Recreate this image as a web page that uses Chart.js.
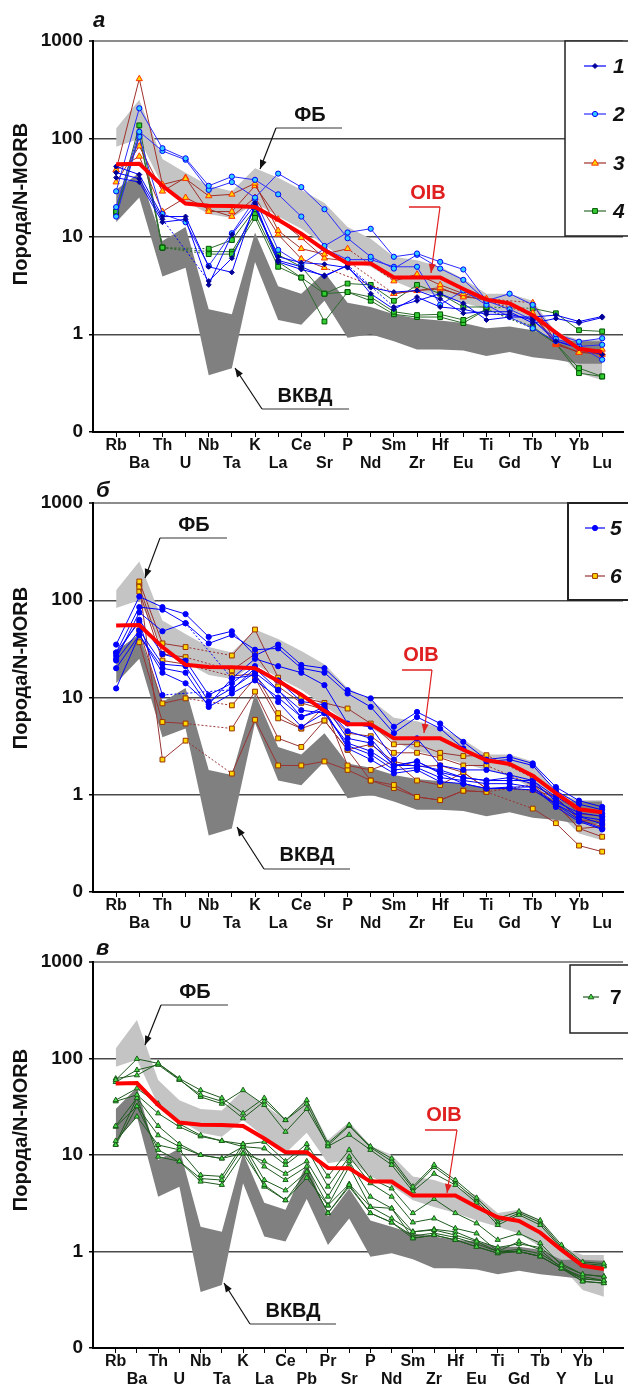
<!DOCTYPE html>
<html>
<head>
<meta charset="utf-8">
<script src="https://cdn.jsdelivr.net/npm/chart.js@4.4.1/dist/chart.umd.min.js"></script>
<style>
html, body { margin: 0; padding: 0; background: #fff; }
.panel { position: absolute; left: 0; width: 628px; }
canvas { display: block; }
</style>
</head>
<body>
<div class="panel" style="top:0"><canvas id="chartA" width="628" height="478"></canvas></div>
<div class="panel" style="top:460px"><canvas id="chartB" width="628" height="478"></canvas></div>
<div class="panel" style="top:920px"><canvas id="chartC" width="628" height="468"></canvas></div>
<script>
"use strict";
const FONT = "'Liberation Sans', Arial, sans-serif";

// categories
const catsAB = ['Rb','Ba','Th','U','Nb','Ta','K','La','Ce','Sr','P','Nd','Sm','Zr','Hf','Eu','Ti','Gd','Tb','Y','Yb','Lu'];
const catsC = ['Rb','Ba','Th','U','Nb','Ta','K','La','Ce','Pb','Pr','Sr','P','Nd','Sm','Zr','Hf','Eu','Ti','Gd','Tb','Y','Yb','Lu'];

// y axis ticks (bottom one is labelled "0")
const yTicks = [0.1, 1, 10, 100, 1000];
const yTickLabels = ['0', '1', '10', '100', '1000'];

// OIB reference line
const oibAB = [55, 55.6, 33, 21.7, 20.6, 20.5, 20, 14.8, 10.7, 7.3, 5.3, 5.3, 3.8, 3.8, 3.8, 2.9, 2.26, 2.07, 1.57, 1.04, 0.71, 0.66];
const oibC = [55, 55.6, 33, 21.7, 20.6, 20.5, 20, 14.8, 10.7, 10.7, 7.35, 7.3, 5.3, 5.3, 3.8, 3.8, 3.8, 2.9, 2.26, 2.07, 1.57, 1.04, 0.71, 0.66];

// fields: ФБ (light) and ВКВД (dark), upper and lower bounds
const fbHiAB = [127, 250, 62, 45, 33, 29, 50, 40, 30, 22, 12.5, 9.5, 6.2, 5.7, 4.9, 3.7, 2.6, 2.6, 2.2, 1.05, 0.88, 0.88];
const fbLoAB = [83, 100, 33, 23, 17, 15.5, 22, 16, 12, 8.2, 5.5, 4.9, 3.5, 2.8, 2.45, 2.1, 1.8, 1.55, 1.15, 0.68, 0.4, 0.34];
const vkHiAB = [30, 45, 9, 12.5, 1.8, 1.6, 11, 3.1, 2.6, 4.3, 2.1, 1.9, 1.6, 1.45, 1.38, 1.3, 1.15, 1.2, 1.1, 0.88, 0.85, 0.85];
const vkLoAB = [14, 25, 3.9, 4.8, 0.38, 0.45, 5.5, 1.4, 1.25, 2.2, 0.92, 1.0, 0.85, 0.7, 0.7, 0.68, 0.6, 0.66, 0.58, 0.55, 0.5, 0.5];

const fbHiC = [127, 250, 60, 37, 30, 29, 47, 33, 23, 38, 14.3, 22, 12.5, 10, 6, 5.5, 4.7, 3.8, 2.5, 2.7, 2.1, 1.12, 0.92, 0.92];
const fbLoC = [82, 97, 33, 23, 17, 15.5, 23, 15.5, 10.4, 17, 8.2, 8.9, 6.0, 4.8, 3.4, 2.9, 2.5, 2.1, 1.8, 1.54, 1.12, 0.7, 0.4, 0.34];
const vkHiC = [30, 50, 8.9, 11.7, 1.8, 1.6, 10.4, 3.2, 2.7, 8.2, 2.3, 4.5, 2.1, 1.8, 1.54, 1.43, 1.32, 1.27, 1.12, 1.12, 1.04, 0.82, 0.82, 0.8];
const vkLoC = [14, 25, 3.7, 4.7, 0.38, 0.45, 5.1, 1.43, 1.27, 3.5, 1.17, 2.2, 0.88, 0.96, 0.83, 0.67, 0.67, 0.65, 0.58, 0.63, 0.58, 0.55, 0.52, 0.52];

// panel а, groups 1-4
const g1 = [
  [52, 43, 16, 16, 4.9, 4.3, 22, 5.7, 4.9, 3.9, 5.1, null, 1.9, 2.2, 2.6, 2.07, 1.4, 1.5, 1.5, 1.57, 1.35, 1.52],
  [45, 39, 15, null, 3.5, 6.0, 20, 6.2, 5.4, 5.2, 4.8, 3.0, 2.7, 2.8, 2.3, 1.64, 1.7, 1.7, 1.3, 1.45, 1.3, 1.48],
  [40, 36, 14, 15, 3.2, 10.5, 21, 5.5, 4.6, 4.0, 5.0, 2.6, 1.8, 2.4, 1.9, 1.8, 1.6, 1.6, 1.4, 0.85, 0.72, 0.62]
];
const g2 = [
  [29, 205, 80, 63, 33, 41, 38, 27, 16, 8, 11, 12, 6.2, 6.7, 5.5, 4.6, 2.2, 2.6, 2.0, 1.0, 0.84, 0.91],
  [20, 118, 75, 61, 30, 36, 25, 44, 32, 19, 9.6, 6.2, 4.7, 6.5, 4.7, 3.6, 2.2, 1.8, 1.4, 0.9, 0.75, 0.78],
  [16, 105, 17, 14, 5.0, 10.8, 24, 7.3, 5.2, 7.5, 5.8, 5.8, 4.9, 4.9, 2.0, 2.8, 2.0, 1.5, 1.15, 0.85, 0.75, 0.55]
];
const g3 = [
  [48, 410, 34, 39, 26, 27, 35, 11.5, 7.5, 6.6, 7.5, null, 3.5, 4.1, 3.2, 2.6, 2.3, null, 2.1, 0.82, 0.65, 0.70],
  [36, 84, 29, 40, 18, 18, 33, 15, 9.7, 6.0, 5.6, null, 2.6, 2.8, 3.0, 2.4, 2.3, null, 1.65, 0.8, 0.65, 0.64],
  [48, 66, 18, 25, 19, 16, 25, 10.5, 5.9, 4.8, null, null, 2.6, 2.8, 2.9, 2.5, 2.2, null, 1.6, 0.78, 0.66, 0.62]
];
const g4 = [
  [18, 137, 7.7, null, 7.5, 9.2, 19, 6.5, 4.9, 2.6, 3.3, 3.2, 2.2, 3.2, 2.6, 1.9, 1.9, null, 1.84, 1.64, 1.1, 1.07],
  [17, 110, 7.7, null, 6.6, 6.6, 15.5, 4.9, 3.8, 1.35, 2.7, 2.4, 1.7, 1.57, 1.6, 1.4, 1.8, null, 1.15, 0.8, 0.45, 0.37],
  [18, 105, 7.7, null, 7.0, 7.0, 17, 5.5, 3.8, 2.6, 2.7, 2.2, 1.6, 1.5, 1.5, 1.3, 1.8, null, 1.2, 0.8, 0.4, 0.37]
];

// panel б, groups 5-6
const g5 = [
  [35, 109, 85, 72, 42, 48, 27, 35, 21.6, 20, 11.9, 9.8, 5.0, 7.1, 5.4, 3.5, 2.3, 2.45, 2.1, 1.2, 0.87, 0.75],
  [29, 85, 80, 58, 36, 44, 31, 32, 20, 18, 11, 8.0, 4.3, 6.3, 4.8, 3.0, 2.2, 2.3, 2.0, 1.1, 0.8, 0.7],
  [25, 75, 48, 58, null, 15.7, 25, 21, 18, 13.4, 5.4, 5.0, 2.3, 3.8, 2.0, 1.8, 1.8, 1.6, 1.4, 0.95, 0.7, 0.64],
  [27, 63, 28, 24, 10.6, 14, 21, 15, 9.1, 8.4, 3.8, 3.4, 2.0, 2.2, 1.7, 1.5, 1.4, 1.5, 1.3, 0.9, 0.6, 0.55],
  [24, 49, 22, 21, 9.1, 12.4, 18, 11.8, 7.4, 6.9, 3.4, 2.8, 1.95, 2.2, 1.66, 1.3, 1.16, 1.16, 1.12, 0.8, 0.55, 0.45],
  [20, 44, 20, 18, 8.0, 11, 15, 10, 6.3, 7.5, 3.0, 2.3, 1.66, 1.8, 1.36, 1.3, 1.16, 1.2, 1.2, 0.75, 0.53, 0.44],
  [12.4, 44, 18, 14, 8.5, 15.7, 17, 9, 5, 6.9, 3.2, 2.6, 1.8, 1.9, 1.5, 1.4, 1.3, 1.3, 1.2, 0.8, 0.6, 0.5],
  [29, 60, 10.6, null, null, 12, 20, 12, 6.3, 8, 4.5, 3.8, 2.0, 2.0, 1.8, 1.5, 1.4, 1.4, 1.4, 0.85, 0.65, 0.6]
];
const g6 = [
  [null, 156, 36, 33, null, 27, 50, 16, 10, 8.8, 7.7, 5.4, 3.3, 3.3, 2.7, 2.5, 2.55, null, 1.5, 1.07, 0.64, 0.6],
  [null, 138, 28, 26, null, 19, 28, 13, 8.8, 7.5, 4.3, 4.0, 2.7, 2.7, 2.4, 2.0, 2.0, null, 1.26, 0.95, 0.55, 0.53],
  [null, 123, 24, 22, null, 16.6, 17.6, 6.9, 4.8, 5.8, 2.9, 3.3, 2.2, 1.95, 2.0, 1.7, 1.16, null, 1.12, 0.81, 0.45, 0.47],
  [null, 49, 8.7, 9.8, null, 8.3, 15.8, 6.1, 4.8, 8.0, 2.0, 1.8, 2.2, 1.4, 1.26, 1.7, 1.16, null, 1.12, 0.95, 0.55, 0.47],
  [null, 37, 5.6, 5.4, null, 4.8, 11.5, 3.8, 3.1, 5.8, 2.9, 1.4, 1.26, 0.95, 0.88, 1.1, 1.07, null, 1.26, 0.81, 0.45, 0.37],
  [null, 145, 2.3, 3.6, null, 1.65, 5.9, 2.0, 2.0, 2.2, 1.8, 1.4, 1.17, 0.95, 0.88, 1.1, 1.07, null, 0.72, 0.51, 0.3, 0.26]
];

// panel в, group 7
const g7 = [
  [60, 99, 89, 62, 47, 39, 27, 39, 23, 37, 13.2, 20.5, 12.3, 9.2, 4.7, 7.9, 5.5, 3.6, 2.2, 2.6, 2.1, 1.17, 0.78, 0.75],
  [57, 76, 86, 60, 42, 36, 24, 36, 23, 34, 12.3, 16.2, 11.3, 7.9, 4.2, 6.4, 4.9, 3.2, 1.88, 2.4, 1.88, 1.08, 0.72, 0.7],
  [62, 67, 89, 61, 40, 34, 47, 33, 17.4, 30, 12.6, 20, 12, 8.6, 4.5, 7.5, 5.2, 3.4, 2.0, 2.5, 2.0, 1.12, 0.75, 0.72],
  [37, 49, 34, 21, 16, 14, 13, 13.7, 8.6, 13, 6.0, 11.3, 5.7, 4.5, 2.5, 3.5, 2.5, 1.96, 1.32, 1.54, 1.22, 0.72, 0.58, 0.55],
  [36, 42, 27, 19.6, 15.6, 14, 12.2, 11.7, 7.9, 11.7, 4.7, 9.6, 5.1, 3.7, 2.0, 2.2, 1.74, 1.54, 1.0, 1.27, 1.04, 0.67, 0.55, 0.5],
  [20, 39, 20, 13, 10, 9.2, 10.4, 8.6, 6.4, 8.6, 3.7, 8.6, 3.7, 2.8, 1.6, 1.67, 1.48, 1.27, 1.0, 1.0, 0.89, 0.67, 0.49, 0.47],
  [19.6, 32, 16, 12.2, 10, 9.2, 12.2, 7.6, 5.5, 7.6, 3.0, 7.6, 2.9, 2.8, 1.37, 1.48, 1.32, 1.12, 0.96, 1.0, 0.89, 0.67, 0.49, 0.47],
  [14, 25, 12.7, 11.3, 6.2, 6.0, 13, 5.5, 4.3, 6.7, 2.5, 4.9, 2.5, 2.0, 1.37, 1.48, 1.32, 1.12, 0.96, 1.0, 0.89, 0.67, 0.52, 0.5],
  [12.7, 32, 11.3, 8.6, 5.3, 4.9, 10.4, 4.9, 3.4, 6.7, 2.5, 4.7, 2.5, 2.0, 1.45, 1.55, 1.4, 1.2, 1.0, 1.05, 0.95, 0.7, 0.52, 0.5],
  [13, 39, 9.6, 8.6, 5.7, 5.5, 12, 4.7, 3.4, 5.8, 3.0, 5.0, 2.9, 2.2, 1.6, 1.7, 1.6, 1.3, 1.1, 1.2, 1.1, 0.75, 0.58, 0.55]
];

// marker / line styles of the groups
const st1 = { line: '#0000ff', shape: 'rectRot', r: 2.5, fill: '#000099', edge: '#000099' };
const st2 = { line: '#2b2bff', shape: 'circle', r: 2.6, fill: '#33ccff', edge: '#0000ff' };
const st3 = { line: '#a0302a', shape: 'triangle', r: 3.6, fill: '#ffd700', edge: '#ff3300' };
const st4 = { line: '#2e6b2e', shape: 'rect', r: 3.4, fill: '#33cc33', edge: '#005500' };
const st5 = { line: '#0000ff', shape: 'circle', r: 2.6, fill: '#0000ff', edge: '#0000ff' };
const st6 = { line: '#993333', shape: 'rect', r: 3.4, fill: '#ffd700', edge: '#993300' };
const st7 = { line: '#1e5a1e', shape: 'triangle', r: 3.0, fill: '#44dd44', edge: '#1e5a1e' };

function pts(values) {
  return values.map((v, i) => ({ x: i, y: v }));
}

function bandSets(lo, hi, color, order) {
  const base = { borderWidth: 0, borderColor: 'rgba(0,0,0,0)', pointRadius: 0, order: order, spanGaps: true };
  return [
    Object.assign({}, base, { data: pts(lo), fill: false }),
    Object.assign({}, base, { data: pts(hi), fill: '-1', backgroundColor: color })
  ];
}

function lineSet(values, s) {
  return {
    data: pts(values),
    borderColor: s.line,
    borderWidth: 1,
    pointStyle: s.shape,
    pointRadius: s.r,
    pointBackgroundColor: s.fill,
    pointBorderColor: s.edge,
    pointBorderWidth: 1,
    spanGaps: true,
    fill: false,
    order: 1,
    segment: { borderDash: ctx => (ctx.p0.skip || ctx.p1.skip) ? [2, 2] : undefined }
  };
}

function drawMarker(c, s, x, y) {
  c.save();
  c.fillStyle = s.fill;
  c.strokeStyle = s.edge;
  c.lineWidth = 1;
  const r = s.r;
  c.beginPath();
  if (s.shape === 'circle') {
    c.arc(x, y, r, 0, Math.PI * 2);
  } else if (s.shape === 'rect') {
    const h = r * Math.SQRT1_2;
    c.rect(x - h, y - h, 2 * h, 2 * h);
  } else if (s.shape === 'rectRot') {
    c.moveTo(x, y - r); c.lineTo(x + r, y); c.lineTo(x, y + r); c.lineTo(x - r, y); c.closePath();
  } else if (s.shape === 'triangle') {
    c.moveTo(x, y - r); c.lineTo(x + r * 0.95, y + r * 0.6); c.lineTo(x - r * 0.95, y + r * 0.6); c.closePath();
  }
  c.fill();
  c.stroke();
  c.restore();
}

function drawNote(c, n) {
  c.save();
  c.fillStyle = n.color;
  c.font = `bold 20px ${FONT}`;
  c.textAlign = 'center';
  c.textBaseline = 'middle';
  c.fillText(n.text, n.tx, n.ty);
  // underline
  c.strokeStyle = n.under;
  c.lineWidth = 1.5;
  c.beginPath();
  c.moveTo(n.ux1, n.uy);
  c.lineTo(n.ux2, n.uy);
  c.stroke();
  // leader with arrow head
  c.strokeStyle = n.color;
  c.lineWidth = 1.2;
  c.beginPath();
  c.moveTo(n.ax, n.ay);
  c.lineTo(n.tipX, n.tipY);
  c.stroke();
  const ang = Math.atan2(n.tipY - n.ay, n.tipX - n.ax);
  const len = 9, half = 3.5;
  c.beginPath();
  c.moveTo(n.tipX, n.tipY);
  c.lineTo(n.tipX - len * Math.cos(ang) + half * Math.sin(ang), n.tipY - len * Math.sin(ang) - half * Math.cos(ang));
  c.lineTo(n.tipX - len * Math.cos(ang) - half * Math.sin(ang), n.tipY - len * Math.sin(ang) + half * Math.cos(ang));
  c.closePath();
  c.fill();
  c.restore();
}

function drawLegend(c, L) {
  c.save();
  c.fillStyle = '#fff';
  c.fillRect(L.x0, L.y0, 640 - L.x0, L.y1 - L.y0);
  c.strokeStyle = '#222';
  c.lineWidth = L.bw;
  c.strokeRect(L.x0, L.y0, 640 - L.x0, L.y1 - L.y0);
  L.items.forEach(it => {
    c.strokeStyle = it.style.line;
    c.lineWidth = 1.2;
    c.beginPath();
    c.moveTo(L.lx1, it.y);
    c.lineTo(L.lx2, it.y);
    c.stroke();
    drawMarker(c, it.style, (L.lx1 + L.lx2) / 2, it.y);
    c.fillStyle = '#111';
    c.font = `${L.italic ? 'italic ' : ''}bold 21px ${FONT}`;
    c.textAlign = 'left';
    c.textBaseline = 'middle';
    c.fillText(it.label, L.tx, it.y + 1);
  });
  c.restore();
}

function decoPlugin(d) {
  return {
    id: 'deco',
    afterDraw(chart) {
      const c = chart.ctx;
      c.save();
      c.fillStyle = '#111';
      c.font = `italic bold 22px ${FONT}`;
      c.textAlign = 'left';
      c.textBaseline = 'alphabetic';
      c.fillText(d.letter, d.lx, d.ly);
      c.save();
      c.translate(21, d.titleY);
      c.rotate(-Math.PI / 2);
      c.font = `bold 20px ${FONT}`;
      c.textAlign = 'center';
      c.textBaseline = 'middle';
      c.fillText('Порода/N-MORB', 0, 0);
      c.restore();
      d.notes.forEach(n => drawNote(c, n));
      drawLegend(c, d.legend);
      c.restore();
    }
  };
}

function gridColor(v) {
  if (v === 1000) return '#8c8c8c';
  if (v === 1 || v === 10 || v === 100) return '#4a4a4a';
  return 'rgba(0,0,0,0)';
}

function makeChart(id, cats, xMin, xMax, top, bottom, H, groups, oib, bands, deco) {
  const datasets = [];
  datasets.push(...bandSets(bands[1], bands[0], '#c4c4c4', 6));
  datasets.push(...bandSets(bands[3], bands[2], '#808080', 5));
  groups.forEach(g => g.series.forEach(s => datasets.push(lineSet(s, g.style))));
  datasets.push({ data: pts(oib), borderColor: '#ff0000', borderWidth: 4, pointRadius: 0, order: 0, fill: false });

  new Chart(document.getElementById(id), {
    type: 'line',
    data: { datasets: datasets },
    options: {
      responsive: false,
      animation: false,
      events: [],
      devicePixelRatio: 1,
      layout: { padding: { top: top, left: 0, right: 0, bottom: 0 } },
      plugins: { legend: { display: false }, tooltip: { enabled: false } },
      elements: { line: { tension: 0 } },
      scales: {
        x: {
          type: 'linear', min: xMin, max: xMax,
          afterBuildTicks: ax => { ax.ticks = cats.map((c, i) => ({ value: i })); },
          afterFit: ax => { ax.height = H - bottom; },
          grid: { drawOnChartArea: false, drawTicks: true, tickLength: 5, tickColor: '#000', tickWidth: 1 },
          border: { display: true, color: '#000', width: 2 },
          ticks: {
            autoSkip: false, maxRotation: 0, minRotation: 0, padding: 0, color: '#111',
            font: { family: FONT, size: 16, weight: 'bold', lineHeight: 1.125 },
            callback: v => (v % 2 === 0 ? [cats[v], ''] : ['', cats[v]])
          }
        },
        y: {
          type: 'logarithmic', min: 0.1, max: 1000,
          afterBuildTicks: ax => { ax.ticks = yTicks.map(v => ({ value: v })); },
          afterFit: ax => { ax.width = 93; },
          grid: {
            color: ctx => gridColor(ctx.tick ? ctx.tick.value : null),
            lineWidth: ctx => (ctx.tick && ctx.tick.value === 1000 ? 2 : 1.5),
            drawTicks: true, tickLength: 4, tickColor: '#000', tickWidth: 1.5
          },
          border: { display: true, color: '#000', width: 2 },
          ticks: {
            padding: 6, color: '#111',
            font: { family: FONT, size: 19, weight: 'bold' },
            callback: v => yTickLabels[yTicks.indexOf(v)]
          }
        }
      }
    },
    plugins: [decoPlugin(deco)]
  });
}

function notes(fb, vk, oibN) {
  return [
    Object.assign({ text: 'ФБ', color: '#111', under: '#777' }, fb),
    Object.assign({ text: 'ВКВД', color: '#111', under: '#777' }, vk),
    Object.assign({ text: 'OIB', color: '#e02020', under: '#e02020' }, oibN)
  ];
}

makeChart('chartA', catsAB, -1, 21.9, 41, 432, 478,
  [{ series: g1, style: st1 }, { series: g2, style: st2 }, { series: g3, style: st3 }, { series: g4, style: st4 }],
  oibAB, [fbHiAB, fbLoAB, vkHiAB, vkLoAB],
  {
    letter: 'а', lx: 93, ly: 27, titleY: 204,
    notes: notes(
      { tx: 310, ty: 115, ux1: 276, ux2: 342, uy: 128, ax: 276, ay: 128, tipX: 260, tipY: 169 },
      { tx: 305, ty: 396, ux1: 262, ux2: 349, uy: 409, ax: 262, ay: 409, tipX: 235, tipY: 368 },
      { tx: 428, ty: 193, ux1: 409, ux2: 440, uy: 207, ax: 440, ay: 207, tipX: 431, tipY: 273 }
    ),
    legend: {
      x0: 565, y0: 41, y1: 236, bw: 1.5, lx1: 584, lx2: 606, tx: 613, italic: true,
      items: [{ label: '1', y: 66, style: st1 }, { label: '2', y: 114, style: st2 },
              { label: '3', y: 163, style: st3 }, { label: '4', y: 211, style: st4 }]
    }
  });

makeChart('chartB', catsAB, -1, 21.9, 43, 432, 478,
  [{ series: g5, style: st5 }, { series: g6, style: st6 }],
  oibAB, [fbHiAB, fbLoAB, vkHiAB, vkLoAB],
  {
    letter: 'б', lx: 96, ly: 37, titleY: 208,
    notes: notes(
      { tx: 194, ty: 65, ux1: 160, ux2: 227, uy: 78, ax: 160, ay: 78, tipX: 145, tipY: 118 },
      { tx: 307, ty: 395, ux1: 264, ux2: 350, uy: 409, ax: 264, ay: 409, tipX: 237, tipY: 367 },
      { tx: 421, ty: 195, ux1: 402, ux2: 432, uy: 210, ax: 432, ay: 210, tipX: 424, tipY: 273 }
    ),
    legend: {
      x0: 568, y0: 43, y1: 140, bw: 2, lx1: 585, lx2: 605, tx: 610, italic: true,
      items: [{ label: '5', y: 68, style: st5 }, { label: '6', y: 116, style: st6 }]
    }
  });

makeChart('chartC', catsC, -1.07, 23.9, 42, 428, 468,
  [{ series: g7, style: st7 }],
  oibC, [fbHiC, fbLoC, vkHiC, vkLoC],
  {
    letter: 'в', lx: 96, ly: 35, titleY: 210,
    notes: notes(
      { tx: 195, ty: 72, ux1: 161, ux2: 228, uy: 85, ax: 161, ay: 85, tipX: 145, tipY: 125 },
      { tx: 293, ty: 391, ux1: 250, ux2: 336, uy: 404, ax: 250, ay: 404, tipX: 224, tipY: 363 },
      { tx: 444, ty: 195, ux1: 425, ux2: 457, uy: 210, ax: 457, ay: 210, tipX: 447, tipY: 273 }
    ),
    legend: {
      x0: 570, y0: 45, y1: 113, bw: 1.5, lx1: 583, lx2: 599, tx: 610, italic: false,
      items: [{ label: '7', y: 77, style: st7 }]
    }
  });
</script>
</body>
</html>
